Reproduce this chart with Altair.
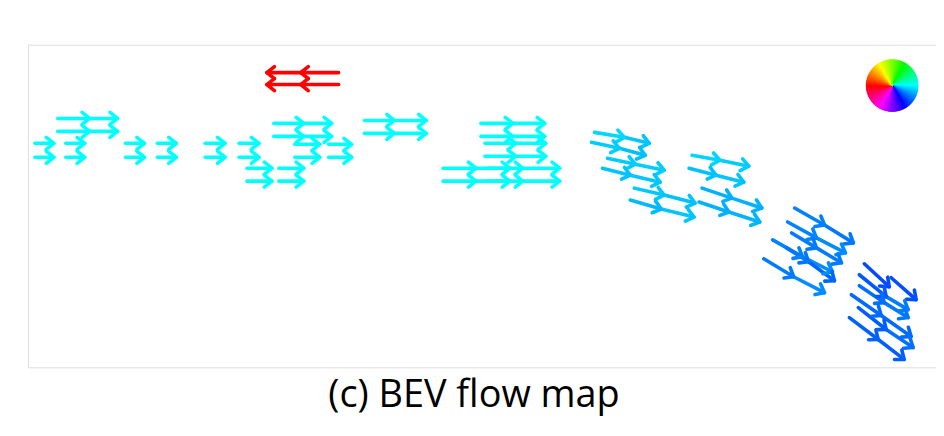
import math
import colorsys
import altair as alt
import pandas as pd

# Flow vectors in BEV map units (origin = top-left of map, y grows downward).
# Each chain is a sequence of points; an arrow joins each consecutive pair.
chain_x = [
    [30, 62, 90], [30, 62, 90],
    [7, 26], [7, 26], [38, 57], [38, 57],
    [98, 117], [98, 117], [130, 149], [130, 149],
    [178, 198], [178, 198], [212, 232], [212, 232],
    [220, 245], [220, 245], [252, 277], [252, 277],
    [247, 277, 305], [247, 277, 305],
    [268, 293], [268, 293], [302, 325], [302, 325],
    [338, 368, 400], [338, 368, 400],
    [312, 274, 240], [312, 274, 240],
    [455, 487, 519], [455, 487, 519],
    [459, 490, 520], [459, 490, 520],
    [417, 450, 484], [417, 450, 484], [462, 497, 534], [462, 497, 534],
    [569, 599, 624], [566, 594, 620], [582, 610, 639], [577, 605, 635],
    [609, 639, 670], [605, 636, 669], [667, 695, 724], [664, 691, 719],
    [677, 707, 737], [674, 704, 735],
    [770, 800, 829], [763, 792, 821], [767, 792, 817], [748, 778, 808],
    [762, 784, 810], [739, 769, 800],
    [840, 865], [867, 892], [835, 862, 884], [835, 860, 884],
    [827, 857, 887], [834, 862, 889], [825, 854, 880],
]
chain_y = [
    [74, 74, 74], [87, 87, 87],
    [99, 99], [113, 113], [99, 99], [113, 113],
    [99, 99], [113, 113], [99, 99], [113, 113],
    [99, 99], [113, 113], [99, 99], [113, 113],
    [124, 124], [137, 137], [124, 124], [137, 137],
    [79, 79, 79], [92, 92, 92],
    [100, 100], [113, 113], [100, 100], [113, 113],
    [76, 76, 76], [89, 89, 89],
    [28, 28, 28], [40, 40, 40],
    [79, 79, 79], [92, 92, 92],
    [99, 99, 99], [112, 112, 112],
    [124, 124, 124], [137, 137, 137], [124, 124, 124], [137, 137, 137],
    [88, 93, 99], [98, 104, 111], [114, 120, 126], [124, 131, 138],
    [144, 151, 159], [156, 165, 173], [111, 116, 122], [124, 131, 138],
    [144, 154, 164], [158, 168, 178],
    [164, 181, 199], [178, 194, 209], [189, 204, 219], [196, 213, 228],
    [204, 218, 237], [215, 233, 249],
    [220, 243], [234, 256], [231, 253, 266], [242, 259, 274],
    [251, 272, 293], [264, 286, 304], [274, 296, 316],
]

map_width = 912
map_height = 324
wheel_center_x = 868
wheel_center_y = 41
wheel_steps = list(range(360))


def flow_color(dx, dy):
    # colour wheel: right = cyan, left = red, down = violet, up = yellow-green
    hue = (180 + math.degrees(math.atan2(dy, dx))) % 360
    r, g, b = colorsys.hsv_to_rgb(hue / 360.0, 1.0, 1.0)
    return "#%02x%02x%02x" % (round(r * 255), round(g * 255), round(b * 255))


rows = []
for xs_, ys_ in zip(chain_x, chain_y):
    for i in range(len(xs_) - 1):
        x0, y0, x1, y1 = xs_[i], ys_[i], xs_[i + 1], ys_[i + 1]
        dx, dy = x1 - x0, y1 - y0
        rows.append({
            "x0": x0, "y0": y0, "x1": x1, "y1": y1,
            "ang": math.degrees(math.atan2(dy, dx)) % 360,
            "col": flow_color(dx, dy),
        })
arrows = pd.DataFrame(rows)

wheel = pd.DataFrame({
    "cx": [wheel_center_x] * len(wheel_steps),
    "cy": [wheel_center_y] * len(wheel_steps),
    "t0": [math.radians(s) for s in wheel_steps],
    "t1": [math.radians(s + 1.2) for s in wheel_steps],
    "col": [
        "#%02x%02x%02x" % tuple(round(c * 255) for c in colorsys.hsv_to_rgb(((90 + s + 0.5) % 360) / 360.0, 1.0, 1.0))
        for s in wheel_steps
    ],
})

xs = alt.Scale(domain=[0, map_width], nice=False, zero=False)
ys = alt.Scale(domain=[0, map_height], nice=False, zero=False, reverse=True)

shafts = alt.Chart(arrows).mark_rule(strokeWidth=3.6, strokeCap="round").encode(
    x=alt.X("x0:Q", scale=xs, axis=None),
    y=alt.Y("y0:Q", scale=ys, axis=None),
    x2="x1:Q",
    y2="y1:Q",
    color=alt.Color("col:N", scale=None),
)

heads = alt.Chart(arrows).mark_point(
    shape="M-1,-0.8L0,0L-1,0.8",
    size=230,
    filled=False,
    strokeWidth=3.6,
    strokeCap="round",
    strokeJoin="round",
    opacity=1,
).encode(
    x=alt.X("x1:Q", scale=xs, axis=None),
    y=alt.Y("y1:Q", scale=ys, axis=None),
    angle=alt.Angle("ang:Q", scale=None),
    color=alt.Color("col:N", scale=None),
)

wheel_layer = alt.Chart(wheel).mark_arc(radius=26, strokeWidth=0.6).encode(
    x=alt.X("cx:Q", scale=xs, axis=None),
    y=alt.Y("cy:Q", scale=ys, axis=None),
    theta=alt.Theta("t0:Q", scale=None),
    theta2="t1:Q",
    fill=alt.Fill("col:N", scale=None),
    stroke=alt.Stroke("col:N", scale=None),
)

chart = alt.layer(shafts, heads, wheel_layer).properties(
    width=map_width,
    height=map_height,
    autosize="none",
    padding={"left": 20, "top": 36, "right": 0, "bottom": 60},
    title=alt.TitleParams(
        "(c) BEV flow map",
        orient="bottom",
        anchor="middle",
        fontSize=38,
        font="Open Sans",
        fontWeight="normal",
        color="black",
        baseline="alphabetic",
        offset=40,
        dx=-8,
    ),
).configure_view(stroke="#dcdcdc", strokeWidth=1).configure(background="white")

chart.save("out.html", embed_options={"renderer": "svg", "actions": False})
